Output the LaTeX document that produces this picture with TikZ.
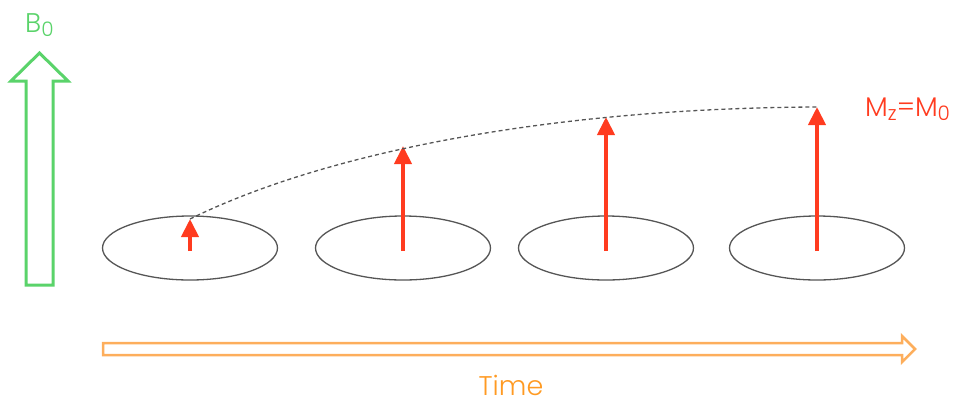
\documentclass[tikz,border=0pt]{standalone}
\usepackage{fontspec}
\setmainfont{Poppins}[UprightFont=* Light]
\usetikzlibrary{arrows.meta,shapes.geometric}
\definecolor{fieldgreen}{HTML}{5AD36A}
\definecolor{magred}{HTML}{FF3B1F}
\definecolor{timeorange}{HTML}{FDAE5C}
\definecolor{timetext}{HTML}{FF9A22}
\definecolor{diskgray}{HTML}{555555}
\tikzset{
  disk/.style={draw=diskgray,line width=1.3bp,ellipse,minimum width=175bp,minimum height=64bp,inner sep=0pt},
  magvec/.style={draw=magred,line width=4bp,-{Triangle[length=18bp,width=17bp]}},
  trend/.style={draw=diskgray,line width=1.3bp,dash pattern=on 4bp off 3bp},
  lbl/.style={inner sep=0pt,anchor=base west,font=\fontsize{27bp}{29bp}\selectfont},
}
\newcommand{\sub}[1]{\raisebox{-0.3ex}{\fontsize{20bp}{22bp}\selectfont #1}}
\begin{document}
\begin{tikzpicture}[x=1bp,y=-1bp]
\useasboundingbox (0,0) rectangle (965,401);
% static field B0
\draw[fieldgreen,line width=3bp,line join=miter]
  (26,285) -- (53,285) -- (53,81) -- (68,81) -- (39.5,53) -- (11,81) -- (26,81) -- cycle;
\node[lbl,text=fieldgreen] (b0) at (25,32) {B\sub{0}};
% magnetization recovering along z
\foreach \i/\x/\top in {1/190/219,2/403/146,3/606/117,4/817/107}{
  \node[disk] (disk\i) at (\x,248) {};
  \coordinate (base\i) at (\x,251);
  \coordinate (tip\i) at (\x,\top);
  \draw[magvec] (base\i) -- (tip\i);
}
\draw[trend] (tip1) .. controls (330,150) and (560,108) .. (tip4);
\node[lbl,text=magred] (mz) at (865,116) {M\sub{z}=M\sub{0}};
% time axis
\draw[timeorange,line width=2.5bp,line join=miter]
  (103,343) -- (902,343) -- (902,336) -- (915,349) -- (902,362) -- (902,355) -- (103,355) -- cycle;
\node[lbl,text=timetext,anchor=base] (time) at (511,395) {Time};
\end{tikzpicture}
\end{document}
